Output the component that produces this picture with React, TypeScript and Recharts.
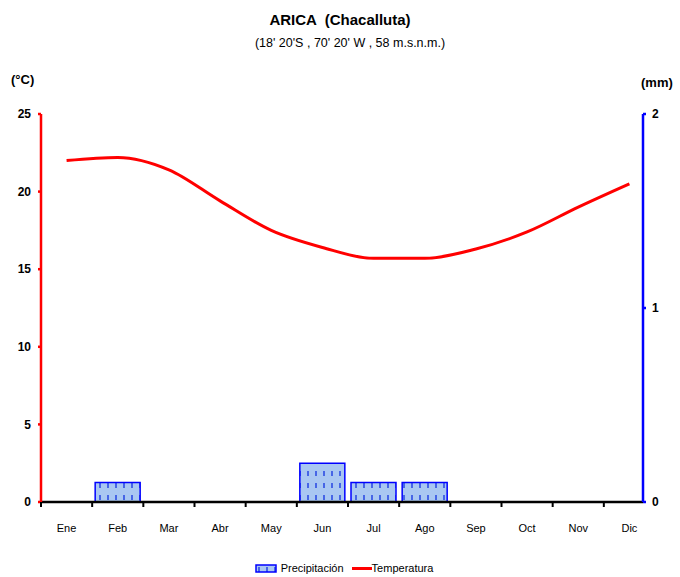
import React from 'react';
import { ComposedChart, Bar, Line, XAxis, YAxis } from 'recharts';

const months = ['Ene', 'Feb', 'Mar', 'Abr', 'May', 'Jun', 'Jul', 'Ago', 'Sep', 'Oct', 'Nov', 'Dic'];
const temperatura = [22.0, 22.2, 21.4, 19.4, 17.5, 16.4, 15.7, 15.7, 16.3, 17.4, 19.0, 20.5];
const precipitacion = [0, 0.1, 0, 0, 0, 0.2, 0.1, 0.1, 0, 0, 0, 0];
const tempTicks = [0, 5, 10, 15, 20, 25];
const precTicks = [0, 1, 2];

const data = months.map((m, i) => ({ mes: m, temp: temperatura[i], prec: precipitacion[i] }));

const FONT = "'Liberation Sans Narrow', 'Arial Narrow', 'Liberation Sans', Arial, sans-serif";

// plot box, as in the excel original
const W = 680;
const H = 577;
const PLOT_LEFT = 41;
const PLOT_RIGHT = 643;
const PLOT_TOP = 114;
const PLOT_BOTTOM = 502;
const X_OVERHANG = 12; // categories run a bit past the right axis
const BAND = (PLOT_RIGHT + X_OVERHANG - PLOT_LEFT) / months.length;

const MonthTick = (props: any) => {
  const { x, y, payload } = props;
  const left = x - BAND / 2;
  return (
    <g>
      <line x1={left} y1={y} x2={left} y2={y + 5} stroke="#000" strokeWidth={2} />
      <text x={x} y={y + 30} textAnchor="middle" fontSize={11} fontFamily={FONT} fill="#000">
        {payload.value}
      </text>
    </g>
  );
};

export default function App() {
  return (
    <div style={{ position: 'relative', width: W, height: H, background: '#fff', fontFamily: FONT }}>
      <style>{'body{margin:0}'}</style>
      <svg width={0} height={0} style={{ position: 'absolute' }}>
        <defs>
          <pattern id="lluvia" width={8} height={12} patternUnits="userSpaceOnUse">
            <rect width={8} height={12} fill="#a9c7f2" />
            <line x1={4} y1={3} x2={4} y2={8} stroke="#1030e0" strokeWidth={1.3} />
          </pattern>
        </defs>
      </svg>

      <div style={{ position: 'absolute', top: 11, left: 0, width: W, textAlign: 'center', fontWeight: 'bold', fontSize: 15, whiteSpace: 'pre' }}>
        {'ARICA  (Chacalluta)'}
      </div>
      <div style={{ position: 'absolute', top: 36, left: 10, width: W, textAlign: 'center', fontSize: 12.5, whiteSpace: 'pre' }}>
        {"(18' 20'S , 70' 20' W , 58 m.s.n.m.)"}
      </div>
      <div style={{ position: 'absolute', top: 72, left: 11, fontWeight: 'bold', fontSize: 13 }}>(°C)</div>
      <div style={{ position: 'absolute', top: 75, left: 641, fontWeight: 'bold', fontSize: 13 }}>(mm)</div>

      <ComposedChart
        width={W}
        height={H}
        data={data}
        margin={{ top: PLOT_TOP, right: W - PLOT_RIGHT - 30, bottom: H - PLOT_BOTTOM - 40, left: PLOT_LEFT - 35 }}
        barCategoryGap={3}
      >
        <XAxis
          dataKey="mes"
          xAxisId="m"
          height={40}
          padding={{ left: 0, right: -X_OVERHANG }}
          stroke="#000"
          strokeWidth={2.5}
          tickLine={false}
          tickSize={0}
          tickMargin={0}
          interval={0}
          tick={<MonthTick />}
        />
        <YAxis
          yAxisId="t"
          width={35}
          domain={[0, 25]}
          ticks={tempTicks}
          stroke="#ff0000"
          strokeWidth={2.5}
          tickSize={3}
          tickMargin={7}
          tick={{ fill: '#000', fontSize: 12, fontWeight: 'bold', fontFamily: FONT }}
        />
        <YAxis
          yAxisId="p"
          orientation="right"
          width={30}
          domain={[0, 2]}
          ticks={precTicks}
          stroke="#0000ff"
          strokeWidth={2.5}
          tickSize={3}
          tickMargin={6}
          tick={{ fill: '#000', fontSize: 12, fontWeight: 'bold', fontFamily: FONT }}
        />
        <Bar
          dataKey="prec"
          xAxisId="m"
          yAxisId="p"
          fill="url(#lluvia)"
          stroke="#0000ff"
          strokeWidth={1.5}
          isAnimationActive={false}
        />
        <Line
          dataKey="temp"
          xAxisId="m"
          yAxisId="t"
          type="monotone"
          stroke="#ff0000"
          strokeWidth={3}
          dot={false}
          activeDot={false}
          isAnimationActive={false}
        />
      </ComposedChart>

      <div style={{ position: 'absolute', top: 562, left: 4, width: W, display: 'flex', justifyContent: 'center', alignItems: 'center', fontSize: 11 }}>
        <svg width={22} height={9} style={{ marginRight: 4 }}>
          <rect x={1} y={1} width={20} height={7} fill="url(#lluvia)" stroke="#0000ff" strokeWidth={1.5} />
        </svg>
        <span style={{ marginRight: 8 }}>Precipitación</span>
        <svg width={20} height={9}>
          <line x1={0} y1={4.5} x2={20} y2={4.5} stroke="#ff0000" strokeWidth={3} />
        </svg>
        <span>Temperatura</span>
      </div>
    </div>
  );
}
